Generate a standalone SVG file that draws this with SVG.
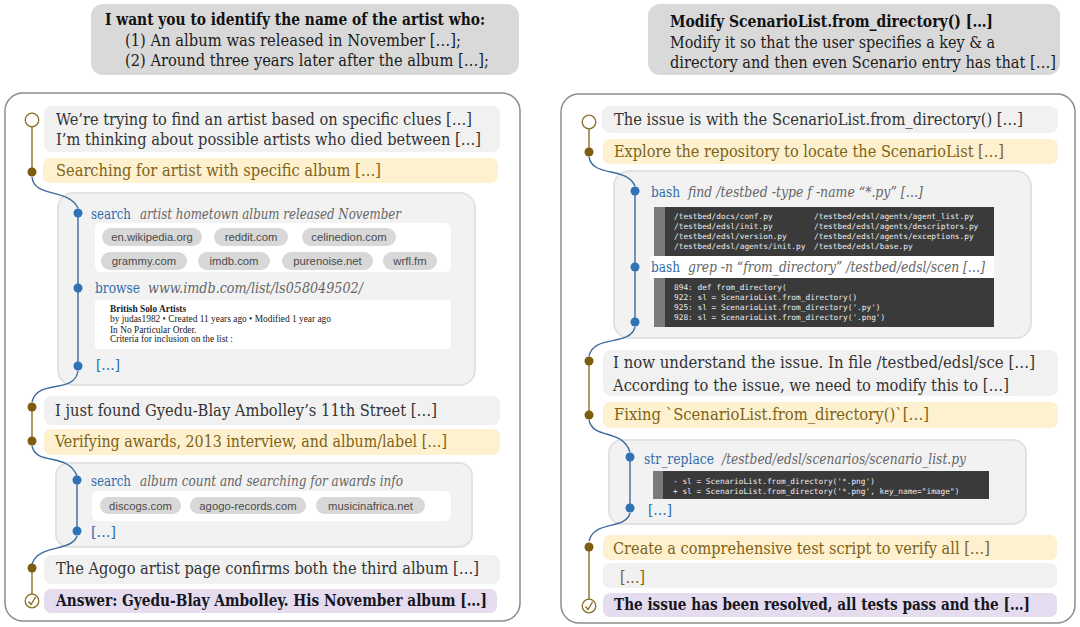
<svg xmlns="http://www.w3.org/2000/svg" width="1080" height="627" viewBox="0 0 1080 627">
<style>
text{font-family:"DejaVu Serif Condensed","DejaVu Serif","Liberation Serif",serif;white-space:pre}
.t{font-size:17px;fill:#333}
.y{font-size:17px;fill:#7d6318}
.b{font-size:17px;fill:#16161e;font-weight:bold}
.p{font-size:16px;fill:#1c1c1c}
.pb{font-size:16px;fill:#111;font-weight:bold}
.k{font-size:15.500px;fill:#2f6da8}
.i{font-size:15px;fill:#666;font-style:italic}
.w{font-size:9.400px;fill:#222;font-family:"Liberation Serif",serif}
.s{font-family:"Liberation Sans",Arial,sans-serif;font-size:11.300px;fill:#4a4a4a;text-anchor:middle}
.c{font-family:"DejaVu Sans Mono","Liberation Mono",monospace;font-size:7.800px;fill:#ececec}
.prompt{fill:#d9d9d9}
.panel{fill:#fff;stroke:#8c8c8c;stroke-width:1.500}
.sub{fill:#f2f2f2;stroke:#e2e2e2;stroke-width:2}
.g{fill:#f1f1f2}
.ye{fill:#fdf1cf}
.pu{fill:#e5dcef}
.wb{fill:#fff}
.pill{fill:#d8d8d8}
.dark{fill:#3a3a3a}
.stripe{fill:#7a7a7a}
.gold{fill:#7e5d12}
.blue{fill:#2f72b5}
.open{fill:#fff;stroke:#8a7028;stroke-width:1.300}
.lg{fill:none;stroke:#8a7028;stroke-width:1.400}
.lb{fill:none;stroke:#3d6c9e;stroke-width:1.400}
</style>

<g id="prompt-left">
<rect class="prompt" x="91" y="4" width="428" height="71" rx="12"/>
<text class="pb" x="105" y="25" textLength="380" lengthAdjust="spacingAndGlyphs">I want you to identify the name of the artist who:</text>
<text class="p" x="125" y="46" textLength="336" lengthAdjust="spacingAndGlyphs">(1) An album was released in November […];</text>
<text class="p" x="125" y="66" textLength="364" lengthAdjust="spacingAndGlyphs">(2) Around three years later after the album […];</text>
</g>
<g id="prompt-right">
<rect class="prompt" x="648" y="4" width="412" height="71" rx="12"/>
<text class="pb" x="670" y="27" textLength="323" lengthAdjust="spacingAndGlyphs">Modify ScenarioList.from_directory() […]</text>
<text class="p" x="670" y="48" textLength="325" lengthAdjust="spacingAndGlyphs">Modify it so that the user specifies a key &amp; a</text>
<text class="p" x="670" y="68" textLength="386" lengthAdjust="spacingAndGlyphs">directory and then even Scenario entry has that […]</text>
</g>

<g id="panel-left"><rect class="panel" x="5" y="93" width="515" height="528" rx="18"/></g>
<g id="panel-right"><rect class="panel" x="561" y="94" width="514" height="529" rx="18"/></g>

<g id="l-thought-1">
<rect class="g" x="44" y="106" width="456" height="46" rx="8"/>
<text class="t" x="56" y="125" textLength="416" lengthAdjust="spacingAndGlyphs">We’re trying to find an artist based on specific clues […]</text>
<text class="t" x="56" y="145" textLength="425" lengthAdjust="spacingAndGlyphs">I’m thinking about possible artists who died between […]</text>
</g>
<g id="l-action-1">
<rect class="ye" x="43" y="158" width="455" height="25" rx="7"/>
<text class="y" x="56" y="176" textLength="325" lengthAdjust="spacingAndGlyphs">Searching for artist with specific album […]</text>
</g>
<g id="l-tools-1">
<rect class="sub" x="58" y="193" width="417" height="192" rx="15"/>
<text class="k" x="91" y="219" textLength="40" lengthAdjust="spacingAndGlyphs">search</text>
<text class="i" x="140" y="219" textLength="261" lengthAdjust="spacingAndGlyphs">artist hometown album released November</text>
<rect class="wb" x="95" y="223" width="356" height="49" rx="6"/>
<rect class="pill" x="102" y="228" width="100" height="18" rx="9"/><text class="s" x="152" y="241">en.wikipedia.org</text>
<rect class="pill" x="214" y="228" width="74" height="18" rx="9"/><text class="s" x="251" y="241">reddit.com</text>
<rect class="pill" x="302" y="228" width="94" height="18" rx="9"/><text class="s" x="349" y="241">celinedion.com</text>
<rect class="pill" x="101" y="252" width="86" height="18" rx="9"/><text class="s" x="144" y="265">grammy.com</text>
<rect class="pill" x="198" y="252" width="72" height="18" rx="9"/><text class="s" x="234" y="265">imdb.com</text>
<rect class="pill" x="282" y="252" width="91" height="18" rx="9"/><text class="s" x="327.500" y="265">purenoise.net</text>
<rect class="pill" x="383" y="252" width="54" height="18" rx="9"/><text class="s" x="410" y="265">wrfl.fm</text>
<text class="k" x="95" y="293" textLength="45" lengthAdjust="spacingAndGlyphs">browse</text>
<text class="i" x="148" y="293" textLength="215" lengthAdjust="spacingAndGlyphs">www.imdb.com/list/ls058049502/</text>
<rect class="wb" x="95" y="300" width="356" height="49" rx="3"/>
<text class="w" x="110" y="312" font-weight="bold">British Solo Artists</text>
<text class="w" x="110" y="322">by judas1982 • Created 11 years ago • Modified 1 year ago</text>
<text class="w" x="110" y="333">In No Particular Order.</text>
<text class="w" x="110" y="342">Criteria for inclusion on the list :</text>
<text class="k" x="96" y="370" textLength="24" lengthAdjust="spacingAndGlyphs">[…]</text>
</g>
<g id="l-thought-2">
<rect class="g" x="44" y="396" width="456" height="29" rx="8"/>
<text class="t" x="55" y="416" textLength="382" lengthAdjust="spacingAndGlyphs">I just found Gyedu-Blay Ambolley’s 11th Street […]</text>
</g>
<g id="l-action-2">
<rect class="ye" x="44" y="429" width="456" height="26" rx="7"/>
<text class="y" x="55" y="447" textLength="392" lengthAdjust="spacingAndGlyphs">Verifying awards, 2013 interview, and album/label […]</text>
</g>
<g id="l-tools-2">
<rect class="sub" x="56" y="463" width="416" height="84" rx="13"/>
<text class="k" x="91" y="486" textLength="40" lengthAdjust="spacingAndGlyphs">search</text>
<text class="i" x="140" y="486" textLength="263" lengthAdjust="spacingAndGlyphs">album count and searching for awards info</text>
<rect class="wb" x="92" y="491" width="359" height="30" rx="6"/>
<rect class="pill" x="100" y="497" width="81" height="17" rx="8.500"/><text class="s" x="140.500" y="510">discogs.com</text>
<rect class="pill" x="190" y="497" width="116" height="17" rx="8.500"/><text class="s" x="248" y="510">agogo-records.com</text>
<rect class="pill" x="316" y="497" width="109" height="17" rx="8.500"/><text class="s" x="370.500" y="510">musicinafrica.net</text>
<text class="k" x="91" y="537" textLength="25" lengthAdjust="spacingAndGlyphs">[…]</text>
</g>
<g id="l-thought-3">
<rect class="g" x="44" y="555" width="456" height="29" rx="8"/>
<text class="t" x="56" y="574" textLength="423" lengthAdjust="spacingAndGlyphs">The Agogo artist page confirms both the third album […]</text>
</g>
<g id="l-answer">
<rect class="pu" x="44" y="589" width="453" height="24" rx="7"/>
<text class="b" x="56" y="606" textLength="431" lengthAdjust="spacingAndGlyphs">Answer: Gyedu-Blay Ambolley. His November album […]</text>
</g>

<g id="r-thought-1">
<rect class="g" x="602" y="106" width="456" height="27" rx="8"/>
<text class="t" x="614" y="125" textLength="409" lengthAdjust="spacingAndGlyphs">The issue is with the ScenarioList.from_directory() […]</text>
</g>
<g id="r-action-1">
<rect class="ye" x="603" y="139" width="455" height="25" rx="7"/>
<text class="y" x="614" y="157" textLength="390" lengthAdjust="spacingAndGlyphs">Explore the repository to locate the ScenarioList […]</text>
</g>
<g id="r-tools-1">
<rect class="sub" x="614" y="171" width="417" height="167" rx="15"/>
<rect class="wb" x="650" y="256" width="344" height="22"/>
<text class="k" x="651" y="197" textLength="29" lengthAdjust="spacingAndGlyphs">bash</text>
<text class="i" x="688" y="197" textLength="235" lengthAdjust="spacingAndGlyphs">find /testbed -type f -name “*.py” […]</text>
<rect class="dark" x="654" y="207" width="340" height="49"/><rect class="stripe" x="654" y="207" width="11" height="49"/>
<text class="c" x="674" y="219">/testbed/docs/conf.py</text><text class="c" x="814" y="219">/testbed/edsl/agents/agent_list.py</text>
<text class="c" x="674" y="229">/testbed/edsl/init.py</text><text class="c" x="814" y="229">/testbed/edsl/agents/descriptors.py</text>
<text class="c" x="674" y="239">/testbed/edsl/version.py</text><text class="c" x="814" y="239">/testbed/edsl/agents/exceptions.py</text>
<text class="c" x="674" y="249">/testbed/edsl/agents/init.py</text><text class="c" x="814" y="249">/testbed/edsl/base.py</text>
<text class="k" x="651" y="272" textLength="29" lengthAdjust="spacingAndGlyphs">bash</text>
<text class="i" x="688" y="272" textLength="297" lengthAdjust="spacingAndGlyphs">grep -n “from_directory” /testbed/edsl/scen […]</text>
<rect class="dark" x="654" y="278" width="340" height="49"/><rect class="stripe" x="654" y="278" width="11" height="49"/>
<text class="c" x="674" y="290">894: def from_directory(</text>
<text class="c" x="674" y="300">922: sl = ScenarioList.from_directory()</text>
<text class="c" x="674" y="310">925: sl = ScenarioList.from_directory('.py')</text>
<text class="c" x="674" y="320">928: sl = ScenarioList.from_directory('.png')</text>
</g>
<g id="r-thought-2">
<rect class="g" x="603" y="350" width="455" height="46" rx="8"/>
<text class="t" x="613" y="368" textLength="422" lengthAdjust="spacingAndGlyphs">I now understand the issue. In file /testbed/edsl/sce […]</text>
<text class="t" x="613" y="391" textLength="396" lengthAdjust="spacingAndGlyphs">According to the issue, we need to modify this to […]</text>
</g>
<g id="r-action-2">
<rect class="ye" x="603" y="402" width="455" height="26" rx="7"/>
<text class="y" x="614" y="420" textLength="315" lengthAdjust="spacingAndGlyphs">Fixing `ScenarioList.from_directory()`[…]</text>
</g>
<g id="r-tools-2">
<rect class="sub" x="609" y="440" width="417" height="84" rx="13"/>
<text class="k" x="644" y="464" textLength="70" lengthAdjust="spacingAndGlyphs">str_replace</text>
<text class="i" x="722" y="464" textLength="244" lengthAdjust="spacingAndGlyphs">/testbed/edsl/scenarios/scenario_list.py</text>
<rect class="dark" x="653" y="471" width="336" height="28"/><rect class="stripe" x="653" y="471" width="10" height="28"/>
<text class="c" x="673" y="484">- sl = ScenarioList.from_directory('*.png')</text>
<text class="c" x="673" y="494">+ sl = ScenarioList.from_directory('*.png', key_name="image")</text>
<text class="k" x="648" y="515" textLength="24" lengthAdjust="spacingAndGlyphs">[…]</text>
</g>
<g id="r-action-3">
<rect class="ye" x="603" y="535" width="454" height="25" rx="7"/>
<text class="y" x="613" y="554" textLength="377" lengthAdjust="spacingAndGlyphs">Create a comprehensive test script to verify all […]</text>
</g>
<g id="r-ellipsis">
<rect class="g" x="603" y="563" width="454" height="25" rx="7"/>
<text class="y" x="620" y="583" textLength="25" lengthAdjust="spacingAndGlyphs">[…]</text>
</g>
<g id="r-answer">
<rect class="pu" x="603" y="593" width="454" height="24" rx="7"/>
<text class="b" x="614" y="610" textLength="416" lengthAdjust="spacingAndGlyphs">The issue has been resolved, all tests pass and the […]</text>
</g>

<g id="connectors">
<path class="lg" d="M32 126V172"/>
<path class="lb" d="M32 177C34 198 68 188 78 208"/>
<path class="lb" d="M78 213V288M78 288V366"/>
<path class="lb" d="M78 371C74 395 38 378 32 402"/>
<path class="lg" d="M32 407V441"/>
<path class="lb" d="M32 446C36 466 68 452 77 476"/>
<path class="lb" d="M77 480V531"/>
<path class="lb" d="M77 536C72 552 38 544 32 564"/>
<path class="lg" d="M32 568V596"/>
<path class="lg" d="M589 128V152"/>
<path class="lb" d="M589 157C593 178 626 166 635 186"/>
<path class="lb" d="M635 191V322"/>
<path class="lb" d="M635 327C630 347 594 334 589 356"/>
<path class="lg" d="M589 361V415"/>
<path class="lb" d="M589 420C593 440 622 428 630 452"/>
<path class="lb" d="M630 457V508"/>
<path class="lb" d="M630 513C626 530 594 520 589 541"/>
<path class="lg" d="M589 547V600"/>
</g>

<g id="markers">
<circle class="open" cx="32" cy="120" r="6.800"/>
<circle class="gold" cx="32" cy="172" r="4.500"/>
<circle class="blue" cx="78" cy="213" r="4.500"/>
<circle class="blue" cx="78" cy="288" r="4.500"/>
<circle class="blue" cx="78" cy="366" r="4.500"/>
<circle class="gold" cx="32" cy="407" r="4.500"/>
<circle class="gold" cx="32" cy="441" r="4.500"/>
<circle class="blue" cx="77" cy="480" r="4.500"/>
<circle class="blue" cx="77" cy="531" r="4.500"/>
<circle class="gold" cx="32" cy="568" r="4.500"/>
<circle class="open" cx="32" cy="601" r="6.800"/>
<path class="lg" stroke-width="1" d="M28.500 601.500L31 604.500L35.500 597"/>
<circle class="open" cx="589" cy="122" r="6.800"/>
<circle class="gold" cx="589" cy="152" r="4.500"/>
<circle class="blue" cx="635" cy="191" r="4.500"/>
<circle class="blue" cx="635" cy="267" r="4.500"/>
<circle class="blue" cx="635" cy="322" r="4.500"/>
<circle class="gold" cx="589" cy="361" r="4.500"/>
<circle class="gold" cx="589" cy="415" r="4.500"/>
<circle class="blue" cx="630" cy="457" r="4.500"/>
<circle class="blue" cx="630" cy="508" r="4.500"/>
<circle class="gold" cx="589" cy="547" r="4.500"/>
<circle class="open" cx="589" cy="606" r="6.800"/>
<path class="lg" stroke-width="1" d="M585.500 606.500L588 609.500L592.500 602"/>
</g>
</svg>
